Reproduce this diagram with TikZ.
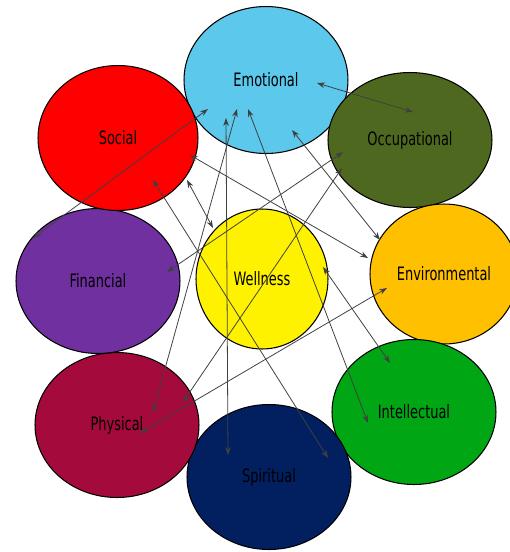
\documentclass[tikz,border=0pt]{standalone}
\usepackage{fontspec}
\newfontfamily\blobfont[FakeStretch=0.78]{DejaVu Sans Condensed}
\usetikzlibrary{calc,shapes.geometric,arrows.meta}

\definecolor{emoblue}{RGB}{91,200,236}
\definecolor{occgreen}{RGB}{79,104,32}
\definecolor{envgold}{RGB}{255,192,0}
\definecolor{intgreen}{RGB}{0,166,20}
\definecolor{spinavy}{RGB}{2,32,96}
\definecolor{phyred}{RGB}{165,10,60}
\definecolor{finpurple}{RGB}{112,48,160}

\begin{document}
\begin{tikzpicture}[x=0.02cm,y=-0.02cm,
   blob/.style={ellipse,draw=black,line width=0.6pt,inner sep=0pt,
                minimum width=3.28cm,minimum height=2.9cm,
                font=\blobfont\fontsize{10.5}{12}\selectfont},
   link/.style={black!75,line width=0.45pt,
                {Stealth[length=4.5pt,width=3.2pt]}-{Stealth[length=4.5pt,width=3.2pt]}}]
   \useasboundingbox (0,0) rectangle (510,552);
   \node[blob,fill=emoblue,minimum height=2.94cm] (emo) at (266,80)  {Emotional};
   \node[blob,fill=occgreen,minimum height=2.7cm] (occ) at (410,140) {Occupational};
   \node[blob,fill=envgold,minimum width=2.96cm,minimum height=2.8cm] (env) at (444,274) {Environmental};
   \node[blob,fill=intgreen]  (int) at (414,412) {Intellectual};
   \node[blob,fill=spinavy]   (spi) at (269,477) {Spiritual};
   \node[blob,fill=phyred]    (phy) at (117,425) {Physical};
   \node[blob,fill=finpurple] (fin) at (98,281)  {Financial};
   \node[blob,fill=red,minimum width=3.2cm] (soc) at (118,138) {Social};
   \node[blob,fill=yellow,minimum width=2.64cm,minimum height=2.8cm] (wel) at (262,279) {Wellness};
   % two-way links, ends placed inside the ellipses
   \draw[link] ($(emo)+(-58,29)$) -- ($(fin)+(-65,-43)$);
   \draw[link] ($(emo)+(-40,38)$) -- ($(spi)+(-41,-22)$);
   \draw[link] ($(emo)+(-29,29)$) -- ($(phy)+(36,-13)$);
   \draw[link] ($(emo)+(-18,29)$) -- ($(int)+(-46,11)$);
   \draw[link] ($(emo)+(26,50)$)  -- ($(env)+(-64,-34)$);
   \draw[link] ($(emo)+(51,3)$)   -- ($(occ)+(3,-28)$);
   \draw[link] ($(soc)+(72,17)$)  -- ($(env)+(-76,-16)$);
   \draw[link] ($(soc)+(69,42)$)  -- ($(wel)+(-49,-51)$);
   \draw[link] ($(soc)+(35,42)$)  -- ($(spi)+(59,-19)$);
   \draw[link] ($(occ)+(-67,12)$) -- ($(fin)+(69,-9)$);
   \draw[link] ($(occ)+(-68,28)$) -- ($(phy)+(66,-23)$);
   \draw[link] ($(env)+(-57,14)$) -- ($(phy)+(23,8)$);
   \draw[link] ($(wel)+(61,-12)$) -- ($(int)+(-24,-49)$);
\end{tikzpicture}
\end{document}
